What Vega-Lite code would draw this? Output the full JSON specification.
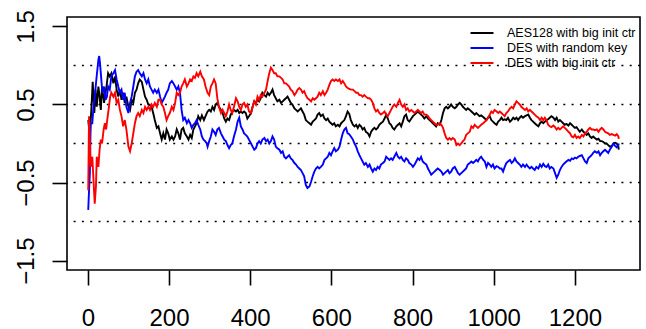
{
"$schema": "https://vega.github.io/schema/vega-lite/v6.json",
"width": 573, "height": 253,
"autosize": {"type": "none"},
"padding": {"left": 67, "top": 17, "right": 6, "bottom": 59},
"config": {
  "view": {"stroke": "black", "strokeWidth": 1.6},
  "font": "Liberation Sans",
  "axis": {"labelFont": "Liberation Sans", "labelFontSize": 24, "labelColor": "black", "ticks": true, "tickColor": "black", "tickWidth": 1.6, "tickSize": 15, "domain": false, "grid": false, "title": null}
},
"datasets": {
  "names": [{"k": 0, "name": "AES128 with big init ctr"}, {"k": 1, "name": "DES with random key"}, {"k": 2, "name": "DES with big init ctr"}],
  "grid": [{"h": -1}, {"h": -0.5}, {"h": 0}, {"h": 0.5}, {"h": 1}]
},
"layer": [
  {"data": {"name": "grid"}, "mark": {"type": "rule", "strokeDash": [2, 6.3], "color": "black", "strokeWidth": 1.5},
   "encoding": {"y": {"field": "h", "type": "quantitative", "scale": {"domain": [-1.62, 1.62], "nice": false, "zero": false},
     "axis": {"values": [-1.5, -0.5, 0.5, 1.5], "format": ".1f", "ticks": true, "tickSize": 15, "labelAngle": -90, "labelAlign": "center", "labelBaseline": "alphabetic", "labelPadding": 19, "labelOverlap": false}}}},
  {"data": {"values": [
{"k":0,"x":1,"y":0.3},{"k":0,"x":5,"y":0.1},{"k":0,"x":9,"y":0.47},{"k":0,"x":12,"y":0.79},{"k":0,"x":16,"y":0.39},{"k":0,"x":19,"y":0.69},{"k":0,"x":22,"y":0.47},{"k":0,"x":26,"y":0.73},{"k":0,"x":29,"y":0.6},{"k":0,"x":32,"y":0.43},{"k":0,"x":35,"y":0.73},{"k":0,"x":40,"y":0.52},{"k":0,"x":46,"y":0.73},{"k":0,"x":50,"y":0.9},{"k":0,"x":54,"y":0.86},{"k":0,"x":58,"y":0.9},{"k":0,"x":63,"y":0.77},{"k":0,"x":67,"y":0.86},{"k":0,"x":71,"y":0.69},{"k":0,"x":75,"y":0.6},{"k":0,"x":79,"y":0.69},{"k":0,"x":83,"y":0.56},{"k":0,"x":87,"y":0.65},{"k":0,"x":91,"y":0.52},{"k":0,"x":95,"y":0.6},{"k":0,"x":100,"y":0.47},{"k":0,"x":104,"y":0.43},{"k":0,"x":108,"y":0.56},{"k":0,"x":112,"y":0.52},{"k":0,"x":116,"y":0.65},{"k":0,"x":120,"y":0.69},{"k":0,"x":124,"y":0.77},{"k":0,"x":128,"y":0.82},{"k":0,"x":133,"y":0.79},{"k":0,"x":137,"y":0.69},{"k":0,"x":141,"y":0.6},{"k":0,"x":145,"y":0.56},{"k":0,"x":149,"y":0.5},{"k":0,"x":153,"y":0.49},{"k":0,"x":157,"y":0.47},{"k":0,"x":161,"y":0.39},{"k":0,"x":165,"y":0.3},{"k":0,"x":170,"y":0.2},{"k":0,"x":174,"y":0.22},{"k":0,"x":178,"y":0.13},{"k":0,"x":182,"y":0.05},{"k":0,"x":186,"y":0.13},{"k":0,"x":190,"y":0.05},{"k":0,"x":194,"y":0.18},{"k":0,"x":198,"y":0.13},{"k":0,"x":202,"y":0.05},{"k":0,"x":207,"y":0.09},{"k":0,"x":211,"y":0.05},{"k":0,"x":215,"y":0.09},{"k":0,"x":219,"y":0.18},{"k":0,"x":223,"y":0.13},{"k":0,"x":227,"y":0.05},{"k":0,"x":231,"y":0.18},{"k":0,"x":235,"y":0.2},{"k":0,"x":239,"y":0.13},{"k":0,"x":244,"y":0.09},{"k":0,"x":248,"y":0.05},{"k":0,"x":252,"y":0.11},{"k":0,"x":256,"y":0.07},{"k":0,"x":260,"y":0.18},{"k":0,"x":264,"y":0.22},{"k":0,"x":268,"y":0.26},{"k":0,"x":272,"y":0.35},{"k":0,"x":277,"y":0.3},{"k":0,"x":281,"y":0.36},{"k":0,"x":286,"y":0.3},{"k":0,"x":290,"y":0.35},{"k":0,"x":295,"y":0.41},{"k":0,"x":299,"y":0.43},{"k":0,"x":303,"y":0.41},{"k":0,"x":307,"y":0.47},{"k":0,"x":311,"y":0.43},{"k":0,"x":315,"y":0.5},{"k":0,"x":319,"y":0.52},{"k":0,"x":323,"y":0.47},{"k":0,"x":328,"y":0.43},{"k":0,"x":332,"y":0.39},{"k":0,"x":336,"y":0.32},{"k":0,"x":340,"y":0.28},{"k":0,"x":344,"y":0.32},{"k":0,"x":348,"y":0.3},{"k":0,"x":352,"y":0.37},{"k":0,"x":356,"y":0.41},{"k":0,"x":360,"y":0.43},{"k":0,"x":365,"y":0.41},{"k":0,"x":369,"y":0.43},{"k":0,"x":373,"y":0.39},{"k":0,"x":377,"y":0.41},{"k":0,"x":381,"y":0.39},{"k":0,"x":385,"y":0.41},{"k":0,"x":389,"y":0.39},{"k":0,"x":393,"y":0.32},{"k":0,"x":397,"y":0.35},{"k":0,"x":402,"y":0.39},{"k":0,"x":406,"y":0.47},{"k":0,"x":410,"y":0.54},{"k":0,"x":414,"y":0.52},{"k":0,"x":418,"y":0.56},{"k":0,"x":422,"y":0.54},{"k":0,"x":426,"y":0.58},{"k":0,"x":430,"y":0.65},{"k":0,"x":435,"y":0.62},{"k":0,"x":439,"y":0.6},{"k":0,"x":443,"y":0.65},{"k":0,"x":447,"y":0.62},{"k":0,"x":451,"y":0.65},{"k":0,"x":455,"y":0.69},{"k":0,"x":459,"y":0.62},{"k":0,"x":463,"y":0.58},{"k":0,"x":467,"y":0.54},{"k":0,"x":472,"y":0.56},{"k":0,"x":476,"y":0.52},{"k":0,"x":480,"y":0.54},{"k":0,"x":484,"y":0.56},{"k":0,"x":488,"y":0.58},{"k":0,"x":492,"y":0.6},{"k":0,"x":496,"y":0.56},{"k":0,"x":500,"y":0.52},{"k":0,"x":504,"y":0.5},{"k":0,"x":509,"y":0.45},{"k":0,"x":513,"y":0.43},{"k":0,"x":517,"y":0.41},{"k":0,"x":521,"y":0.43},{"k":0,"x":525,"y":0.45},{"k":0,"x":529,"y":0.41},{"k":0,"x":533,"y":0.37},{"k":0,"x":537,"y":0.3},{"k":0,"x":541,"y":0.28},{"k":0,"x":546,"y":0.26},{"k":0,"x":550,"y":0.24},{"k":0,"x":554,"y":0.28},{"k":0,"x":558,"y":0.3},{"k":0,"x":562,"y":0.32},{"k":0,"x":566,"y":0.37},{"k":0,"x":570,"y":0.39},{"k":0,"x":574,"y":0.35},{"k":0,"x":579,"y":0.37},{"k":0,"x":583,"y":0.32},{"k":0,"x":587,"y":0.3},{"k":0,"x":591,"y":0.32},{"k":0,"x":595,"y":0.28},{"k":0,"x":599,"y":0.26},{"k":0,"x":603,"y":0.24},{"k":0,"x":607,"y":0.26},{"k":0,"x":611,"y":0.22},{"k":0,"x":616,"y":0.24},{"k":0,"x":620,"y":0.22},{"k":0,"x":624,"y":0.26},{"k":0,"x":628,"y":0.28},{"k":0,"x":632,"y":0.3},{"k":0,"x":636,"y":0.35},{"k":0,"x":640,"y":0.41},{"k":0,"x":644,"y":0.38},{"k":0,"x":648,"y":0.3},{"k":0,"x":653,"y":0.24},{"k":0,"x":657,"y":0.22},{"k":0,"x":661,"y":0.24},{"k":0,"x":665,"y":0.2},{"k":0,"x":669,"y":0.24},{"k":0,"x":673,"y":0.22},{"k":0,"x":677,"y":0.18},{"k":0,"x":681,"y":0.2},{"k":0,"x":685,"y":0.15},{"k":0,"x":690,"y":0.13},{"k":0,"x":694,"y":0.09},{"k":0,"x":698,"y":0.15},{"k":0,"x":702,"y":0.18},{"k":0,"x":706,"y":0.2},{"k":0,"x":710,"y":0.18},{"k":0,"x":714,"y":0.2},{"k":0,"x":718,"y":0.24},{"k":0,"x":722,"y":0.26},{"k":0,"x":727,"y":0.28},{"k":0,"x":731,"y":0.32},{"k":0,"x":735,"y":0.37},{"k":0,"x":739,"y":0.32},{"k":0,"x":743,"y":0.26},{"k":0,"x":747,"y":0.24},{"k":0,"x":751,"y":0.2},{"k":0,"x":755,"y":0.18},{"k":0,"x":760,"y":0.22},{"k":0,"x":764,"y":0.24},{"k":0,"x":768,"y":0.26},{"k":0,"x":772,"y":0.22},{"k":0,"x":776,"y":0.28},{"k":0,"x":780,"y":0.35},{"k":0,"x":784,"y":0.37},{"k":0,"x":788,"y":0.3},{"k":0,"x":792,"y":0.28},{"k":0,"x":797,"y":0.32},{"k":0,"x":801,"y":0.35},{"k":0,"x":805,"y":0.37},{"k":0,"x":809,"y":0.39},{"k":0,"x":813,"y":0.41},{"k":0,"x":817,"y":0.39},{"k":0,"x":821,"y":0.37},{"k":0,"x":825,"y":0.35},{"k":0,"x":829,"y":0.32},{"k":0,"x":834,"y":0.35},{"k":0,"x":838,"y":0.32},{"k":0,"x":842,"y":0.3},{"k":0,"x":846,"y":0.28},{"k":0,"x":850,"y":0.26},{"k":0,"x":854,"y":0.24},{"k":0,"x":858,"y":0.22},{"k":0,"x":862,"y":0.26},{"k":0,"x":867,"y":0.24},{"k":0,"x":871,"y":0.3},{"k":0,"x":875,"y":0.39},{"k":0,"x":879,"y":0.45},{"k":0,"x":883,"y":0.47},{"k":0,"x":887,"y":0.45},{"k":0,"x":891,"y":0.47},{"k":0,"x":895,"y":0.5},{"k":0,"x":899,"y":0.47},{"k":0,"x":904,"y":0.45},{"k":0,"x":908,"y":0.47},{"k":0,"x":912,"y":0.5},{"k":0,"x":916,"y":0.52},{"k":0,"x":920,"y":0.5},{"k":0,"x":924,"y":0.47},{"k":0,"x":928,"y":0.45},{"k":0,"x":932,"y":0.43},{"k":0,"x":936,"y":0.45},{"k":0,"x":941,"y":0.43},{"k":0,"x":945,"y":0.41},{"k":0,"x":949,"y":0.39},{"k":0,"x":953,"y":0.37},{"k":0,"x":957,"y":0.39},{"k":0,"x":961,"y":0.37},{"k":0,"x":965,"y":0.35},{"k":0,"x":969,"y":0.36},{"k":0,"x":974,"y":0.34},{"k":0,"x":978,"y":0.32},{"k":0,"x":982,"y":0.3},{"k":0,"x":986,"y":0.33},{"k":0,"x":990,"y":0.35},{"k":0,"x":994,"y":0.3},{"k":0,"x":998,"y":0.28},{"k":0,"x":1002,"y":0.26},{"k":0,"x":1007,"y":0.24},{"k":0,"x":1011,"y":0.28},{"k":0,"x":1015,"y":0.3},{"k":0,"x":1019,"y":0.33},{"k":0,"x":1023,"y":0.3},{"k":0,"x":1027,"y":0.31},{"k":0,"x":1031,"y":0.3},{"k":0,"x":1035,"y":0.33},{"k":0,"x":1040,"y":0.28},{"k":0,"x":1044,"y":0.3},{"k":0,"x":1048,"y":0.33},{"k":0,"x":1052,"y":0.31},{"k":0,"x":1056,"y":0.33},{"k":0,"x":1060,"y":0.3},{"k":0,"x":1064,"y":0.33},{"k":0,"x":1068,"y":0.35},{"k":0,"x":1072,"y":0.33},{"k":0,"x":1077,"y":0.35},{"k":0,"x":1081,"y":0.36},{"k":0,"x":1085,"y":0.37},{"k":0,"x":1089,"y":0.33},{"k":0,"x":1093,"y":0.3},{"k":0,"x":1097,"y":0.28},{"k":0,"x":1101,"y":0.26},{"k":0,"x":1105,"y":0.24},{"k":0,"x":1110,"y":0.22},{"k":0,"x":1114,"y":0.26},{"k":0,"x":1118,"y":0.28},{"k":0,"x":1122,"y":0.26},{"k":0,"x":1126,"y":0.28},{"k":0,"x":1130,"y":0.3},{"k":0,"x":1134,"y":0.31},{"k":0,"x":1138,"y":0.33},{"k":0,"x":1142,"y":0.35},{"k":0,"x":1147,"y":0.33},{"k":0,"x":1151,"y":0.3},{"k":0,"x":1155,"y":0.33},{"k":0,"x":1159,"y":0.28},{"k":0,"x":1163,"y":0.3},{"k":0,"x":1167,"y":0.28},{"k":0,"x":1171,"y":0.26},{"k":0,"x":1175,"y":0.24},{"k":0,"x":1179,"y":0.25},{"k":0,"x":1184,"y":0.23},{"k":0,"x":1188,"y":0.26},{"k":0,"x":1192,"y":0.24},{"k":0,"x":1196,"y":0.22},{"k":0,"x":1200,"y":0.2},{"k":0,"x":1204,"y":0.21},{"k":0,"x":1208,"y":0.18},{"k":0,"x":1212,"y":0.15},{"k":0,"x":1217,"y":0.18},{"k":0,"x":1221,"y":0.15},{"k":0,"x":1225,"y":0.13},{"k":0,"x":1229,"y":0.11},{"k":0,"x":1233,"y":0.13},{"k":0,"x":1237,"y":0.09},{"k":0,"x":1241,"y":0.07},{"k":0,"x":1245,"y":0.09},{"k":0,"x":1249,"y":0.07},{"k":0,"x":1254,"y":0.05},{"k":0,"x":1258,"y":0.06},{"k":0,"x":1262,"y":0.03},{"k":0,"x":1266,"y":0.03},{"k":0,"x":1270,"y":0.02},{"k":0,"x":1274,"y":0},{"k":0,"x":1278,"y":0},{"k":0,"x":1282,"y":-0.02},{"k":0,"x":1286,"y":-0.04},{"k":0,"x":1291,"y":-0.03},{"k":0,"x":1295,"y":0},{"k":0,"x":1299,"y":0.01},{"k":0,"x":1303,"y":0},{"k":0,"x":1307,"y":-0.04},{"k":0,"x":1308,"y":-0.08},
{"k":1,"x":1,"y":-0.85},{"k":1,"x":3,"y":-0.6},{"k":1,"x":5,"y":-0.38},{"k":1,"x":7,"y":0.26},{"k":1,"x":11,"y":0.26},{"k":1,"x":14,"y":0.47},{"k":1,"x":17,"y":0.6},{"k":1,"x":21,"y":0.82},{"k":1,"x":26,"y":1.07},{"k":1,"x":28,"y":1.12},{"k":1,"x":30,"y":1.03},{"k":1,"x":34,"y":0.77},{"k":1,"x":36,"y":0.65},{"k":1,"x":40,"y":0.73},{"k":1,"x":44,"y":0.56},{"k":1,"x":47,"y":0.6},{"k":1,"x":50,"y":0.73},{"k":1,"x":54,"y":0.69},{"k":1,"x":58,"y":0.86},{"k":1,"x":63,"y":0.9},{"k":1,"x":67,"y":0.94},{"k":1,"x":71,"y":0.82},{"k":1,"x":75,"y":0.73},{"k":1,"x":79,"y":0.65},{"k":1,"x":83,"y":0.69},{"k":1,"x":87,"y":0.56},{"k":1,"x":91,"y":0.65},{"k":1,"x":95,"y":0.47},{"k":1,"x":100,"y":0.39},{"k":1,"x":104,"y":0.52},{"k":1,"x":108,"y":0.6},{"k":1,"x":112,"y":0.73},{"k":1,"x":116,"y":0.86},{"k":1,"x":120,"y":0.92},{"k":1,"x":124,"y":0.94},{"k":1,"x":128,"y":0.9},{"k":1,"x":133,"y":0.86},{"k":1,"x":137,"y":0.9},{"k":1,"x":141,"y":0.82},{"k":1,"x":145,"y":0.77},{"k":1,"x":149,"y":0.82},{"k":1,"x":153,"y":0.73},{"k":1,"x":157,"y":0.69},{"k":1,"x":161,"y":0.65},{"k":1,"x":165,"y":0.69},{"k":1,"x":170,"y":0.65},{"k":1,"x":174,"y":0.69},{"k":1,"x":178,"y":0.6},{"k":1,"x":182,"y":0.52},{"k":1,"x":186,"y":0.56},{"k":1,"x":190,"y":0.6},{"k":1,"x":194,"y":0.65},{"k":1,"x":198,"y":0.69},{"k":1,"x":202,"y":0.77},{"k":1,"x":207,"y":0.8},{"k":1,"x":211,"y":0.77},{"k":1,"x":215,"y":0.73},{"k":1,"x":219,"y":0.69},{"k":1,"x":223,"y":0.73},{"k":1,"x":227,"y":0.65},{"k":1,"x":231,"y":0.43},{"k":1,"x":235,"y":0.3},{"k":1,"x":239,"y":0.33},{"k":1,"x":244,"y":0.26},{"k":1,"x":248,"y":0.3},{"k":1,"x":252,"y":0.26},{"k":1,"x":256,"y":0.2},{"k":1,"x":260,"y":0.24},{"k":1,"x":264,"y":0.26},{"k":1,"x":268,"y":0.3},{"k":1,"x":272,"y":0.24},{"k":1,"x":277,"y":0.18},{"k":1,"x":281,"y":0.09},{"k":1,"x":285,"y":0.05},{"k":1,"x":289,"y":0.03},{"k":1,"x":293,"y":0},{"k":1,"x":295,"y":-0.04},{"k":1,"x":299,"y":0.03},{"k":1,"x":303,"y":0.09},{"k":1,"x":307,"y":0.18},{"k":1,"x":311,"y":0.15},{"k":1,"x":315,"y":0.11},{"k":1,"x":319,"y":0.18},{"k":1,"x":323,"y":0.2},{"k":1,"x":328,"y":0.13},{"k":1,"x":332,"y":0.09},{"k":1,"x":336,"y":0.05},{"k":1,"x":340,"y":0.03},{"k":1,"x":344,"y":-0.02},{"k":1,"x":348,"y":-0.06},{"k":1,"x":352,"y":-0.02},{"k":1,"x":356,"y":0},{"k":1,"x":360,"y":0.09},{"k":1,"x":365,"y":0.18},{"k":1,"x":369,"y":0.28},{"k":1,"x":373,"y":0.33},{"k":1,"x":377,"y":0.22},{"k":1,"x":381,"y":0.18},{"k":1,"x":385,"y":0.13},{"k":1,"x":389,"y":0.11},{"k":1,"x":393,"y":0.09},{"k":1,"x":397,"y":0.05},{"k":1,"x":402,"y":0},{"k":1,"x":406,"y":-0.04},{"k":1,"x":410,"y":-0.08},{"k":1,"x":414,"y":-0.06},{"k":1,"x":418,"y":0},{"k":1,"x":422,"y":0.03},{"k":1,"x":426,"y":0},{"k":1,"x":430,"y":0.05},{"k":1,"x":435,"y":0.07},{"k":1,"x":439,"y":0.03},{"k":1,"x":443,"y":0.05},{"k":1,"x":447,"y":0},{"k":1,"x":451,"y":0.03},{"k":1,"x":455,"y":0.09},{"k":1,"x":459,"y":0.05},{"k":1,"x":463,"y":-0.04},{"k":1,"x":467,"y":-0.06},{"k":1,"x":472,"y":-0.08},{"k":1,"x":476,"y":-0.12},{"k":1,"x":480,"y":-0.1},{"k":1,"x":484,"y":-0.17},{"k":1,"x":488,"y":-0.19},{"k":1,"x":492,"y":-0.17},{"k":1,"x":496,"y":-0.15},{"k":1,"x":500,"y":-0.19},{"k":1,"x":504,"y":-0.21},{"k":1,"x":509,"y":-0.25},{"k":1,"x":513,"y":-0.27},{"k":1,"x":517,"y":-0.3},{"k":1,"x":521,"y":-0.32},{"k":1,"x":525,"y":-0.34},{"k":1,"x":529,"y":-0.38},{"k":1,"x":533,"y":-0.42},{"k":1,"x":537,"y":-0.53},{"k":1,"x":541,"y":-0.57},{"k":1,"x":546,"y":-0.55},{"k":1,"x":550,"y":-0.49},{"k":1,"x":554,"y":-0.42},{"k":1,"x":558,"y":-0.36},{"k":1,"x":562,"y":-0.32},{"k":1,"x":566,"y":-0.3},{"k":1,"x":570,"y":-0.32},{"k":1,"x":574,"y":-0.3},{"k":1,"x":579,"y":-0.27},{"k":1,"x":583,"y":-0.21},{"k":1,"x":587,"y":-0.19},{"k":1,"x":591,"y":-0.17},{"k":1,"x":595,"y":-0.12},{"k":1,"x":599,"y":-0.15},{"k":1,"x":603,"y":-0.1},{"k":1,"x":607,"y":-0.06},{"k":1,"x":611,"y":-0.1},{"k":1,"x":616,"y":-0.08},{"k":1,"x":620,"y":-0.04},{"k":1,"x":624,"y":0.05},{"k":1,"x":628,"y":0.13},{"k":1,"x":632,"y":0.18},{"k":1,"x":636,"y":0.2},{"k":1,"x":640,"y":0.13},{"k":1,"x":644,"y":0.12},{"k":1,"x":648,"y":0.09},{"k":1,"x":653,"y":0.05},{"k":1,"x":657,"y":0},{"k":1,"x":661,"y":-0.04},{"k":1,"x":665,"y":-0.1},{"k":1,"x":669,"y":-0.15},{"k":1,"x":673,"y":-0.19},{"k":1,"x":677,"y":-0.23},{"k":1,"x":681,"y":-0.27},{"k":1,"x":685,"y":-0.25},{"k":1,"x":690,"y":-0.3},{"k":1,"x":694,"y":-0.27},{"k":1,"x":698,"y":-0.32},{"k":1,"x":702,"y":-0.36},{"k":1,"x":706,"y":-0.32},{"k":1,"x":710,"y":-0.34},{"k":1,"x":714,"y":-0.3},{"k":1,"x":718,"y":-0.32},{"k":1,"x":722,"y":-0.27},{"k":1,"x":727,"y":-0.25},{"k":1,"x":731,"y":-0.23},{"k":1,"x":735,"y":-0.17},{"k":1,"x":739,"y":-0.19},{"k":1,"x":743,"y":-0.21},{"k":1,"x":747,"y":-0.19},{"k":1,"x":751,"y":-0.21},{"k":1,"x":755,"y":-0.17},{"k":1,"x":760,"y":-0.12},{"k":1,"x":764,"y":-0.17},{"k":1,"x":768,"y":-0.19},{"k":1,"x":772,"y":-0.17},{"k":1,"x":776,"y":-0.21},{"k":1,"x":780,"y":-0.23},{"k":1,"x":784,"y":-0.19},{"k":1,"x":788,"y":-0.21},{"k":1,"x":792,"y":-0.25},{"k":1,"x":797,"y":-0.27},{"k":1,"x":801,"y":-0.3},{"k":1,"x":805,"y":-0.27},{"k":1,"x":809,"y":-0.23},{"k":1,"x":813,"y":-0.19},{"k":1,"x":817,"y":-0.21},{"k":1,"x":821,"y":-0.17},{"k":1,"x":825,"y":-0.23},{"k":1,"x":829,"y":-0.25},{"k":1,"x":834,"y":-0.27},{"k":1,"x":838,"y":-0.32},{"k":1,"x":842,"y":-0.36},{"k":1,"x":846,"y":-0.4},{"k":1,"x":850,"y":-0.38},{"k":1,"x":854,"y":-0.36},{"k":1,"x":858,"y":-0.34},{"k":1,"x":862,"y":-0.32},{"k":1,"x":867,"y":-0.34},{"k":1,"x":871,"y":-0.36},{"k":1,"x":875,"y":-0.4},{"k":1,"x":879,"y":-0.38},{"k":1,"x":883,"y":-0.36},{"k":1,"x":887,"y":-0.34},{"k":1,"x":891,"y":-0.38},{"k":1,"x":895,"y":-0.36},{"k":1,"x":899,"y":-0.32},{"k":1,"x":904,"y":-0.3},{"k":1,"x":908,"y":-0.34},{"k":1,"x":912,"y":-0.38},{"k":1,"x":916,"y":-0.4},{"k":1,"x":920,"y":-0.38},{"k":1,"x":924,"y":-0.36},{"k":1,"x":928,"y":-0.34},{"k":1,"x":932,"y":-0.32},{"k":1,"x":936,"y":-0.27},{"k":1,"x":941,"y":-0.25},{"k":1,"x":945,"y":-0.23},{"k":1,"x":949,"y":-0.25},{"k":1,"x":953,"y":-0.23},{"k":1,"x":957,"y":-0.21},{"k":1,"x":961,"y":-0.23},{"k":1,"x":965,"y":-0.19},{"k":1,"x":969,"y":-0.17},{"k":1,"x":974,"y":-0.21},{"k":1,"x":978,"y":-0.23},{"k":1,"x":982,"y":-0.3},{"k":1,"x":986,"y":-0.25},{"k":1,"x":990,"y":-0.27},{"k":1,"x":994,"y":-0.3},{"k":1,"x":998,"y":-0.27},{"k":1,"x":1002,"y":-0.32},{"k":1,"x":1007,"y":-0.29},{"k":1,"x":1011,"y":-0.3},{"k":1,"x":1015,"y":-0.32},{"k":1,"x":1019,"y":-0.32},{"k":1,"x":1023,"y":-0.36},{"k":1,"x":1027,"y":-0.3},{"k":1,"x":1031,"y":-0.25},{"k":1,"x":1035,"y":-0.23},{"k":1,"x":1040,"y":-0.21},{"k":1,"x":1044,"y":-0.25},{"k":1,"x":1048,"y":-0.23},{"k":1,"x":1052,"y":-0.19},{"k":1,"x":1056,"y":-0.23},{"k":1,"x":1060,"y":-0.25},{"k":1,"x":1064,"y":-0.27},{"k":1,"x":1068,"y":-0.3},{"k":1,"x":1072,"y":-0.27},{"k":1,"x":1077,"y":-0.3},{"k":1,"x":1081,"y":-0.27},{"k":1,"x":1085,"y":-0.3},{"k":1,"x":1089,"y":-0.32},{"k":1,"x":1093,"y":-0.3},{"k":1,"x":1097,"y":-0.32},{"k":1,"x":1101,"y":-0.34},{"k":1,"x":1105,"y":-0.3},{"k":1,"x":1110,"y":-0.32},{"k":1,"x":1114,"y":-0.27},{"k":1,"x":1118,"y":-0.3},{"k":1,"x":1122,"y":-0.26},{"k":1,"x":1126,"y":-0.29},{"k":1,"x":1130,"y":-0.3},{"k":1,"x":1134,"y":-0.27},{"k":1,"x":1138,"y":-0.32},{"k":1,"x":1142,"y":-0.3},{"k":1,"x":1147,"y":-0.32},{"k":1,"x":1151,"y":-0.38},{"k":1,"x":1155,"y":-0.44},{"k":1,"x":1159,"y":-0.4},{"k":1,"x":1163,"y":-0.34},{"k":1,"x":1167,"y":-0.3},{"k":1,"x":1171,"y":-0.27},{"k":1,"x":1175,"y":-0.25},{"k":1,"x":1179,"y":-0.23},{"k":1,"x":1184,"y":-0.21},{"k":1,"x":1188,"y":-0.22},{"k":1,"x":1192,"y":-0.19},{"k":1,"x":1196,"y":-0.2},{"k":1,"x":1200,"y":-0.18},{"k":1,"x":1204,"y":-0.19},{"k":1,"x":1208,"y":-0.17},{"k":1,"x":1212,"y":-0.16},{"k":1,"x":1217,"y":-0.15},{"k":1,"x":1221,"y":-0.19},{"k":1,"x":1225,"y":-0.23},{"k":1,"x":1229,"y":-0.25},{"k":1,"x":1233,"y":-0.19},{"k":1,"x":1237,"y":-0.17},{"k":1,"x":1241,"y":-0.15},{"k":1,"x":1245,"y":-0.12},{"k":1,"x":1249,"y":-0.1},{"k":1,"x":1254,"y":-0.12},{"k":1,"x":1258,"y":-0.1},{"k":1,"x":1262,"y":-0.15},{"k":1,"x":1266,"y":-0.12},{"k":1,"x":1270,"y":-0.1},{"k":1,"x":1274,"y":-0.08},{"k":1,"x":1278,"y":-0.1},{"k":1,"x":1282,"y":-0.12},{"k":1,"x":1286,"y":-0.08},{"k":1,"x":1291,"y":-0.04},{"k":1,"x":1295,"y":0},{"k":1,"x":1299,"y":-0.03},{"k":1,"x":1303,"y":-0.05},{"k":1,"x":1307,"y":-0.02},{"k":1,"x":1308,"y":0},
{"k":2,"x":1,"y":-0.6},{"k":2,"x":3,"y":0.35},{"k":2,"x":5,"y":0.05},{"k":2,"x":7,"y":-0.3},{"k":2,"x":11,"y":-0.17},{"k":2,"x":14,"y":-0.47},{"k":2,"x":17,"y":-0.77},{"k":2,"x":20,"y":-0.55},{"k":2,"x":22,"y":-0.17},{"k":2,"x":26,"y":-0.3},{"k":2,"x":29,"y":-0.08},{"k":2,"x":32,"y":0.05},{"k":2,"x":35,"y":0},{"k":2,"x":39,"y":0.18},{"k":2,"x":42,"y":0.26},{"k":2,"x":45,"y":0.18},{"k":2,"x":49,"y":0.35},{"k":2,"x":52,"y":0.47},{"k":2,"x":55,"y":0.6},{"k":2,"x":58,"y":0.65},{"k":2,"x":63,"y":0.6},{"k":2,"x":67,"y":0.65},{"k":2,"x":71,"y":0.52},{"k":2,"x":75,"y":0.56},{"k":2,"x":79,"y":0.43},{"k":2,"x":83,"y":0.35},{"k":2,"x":87,"y":0.22},{"k":2,"x":91,"y":0.3},{"k":2,"x":95,"y":0.18},{"k":2,"x":100,"y":-0.04},{"k":2,"x":104,"y":-0.1},{"k":2,"x":108,"y":0},{"k":2,"x":112,"y":0.13},{"k":2,"x":116,"y":0.26},{"k":2,"x":120,"y":0.35},{"k":2,"x":124,"y":0.39},{"k":2,"x":128,"y":0.35},{"k":2,"x":133,"y":0.43},{"k":2,"x":137,"y":0.39},{"k":2,"x":141,"y":0.47},{"k":2,"x":145,"y":0.43},{"k":2,"x":149,"y":0.47},{"k":2,"x":153,"y":0.43},{"k":2,"x":157,"y":0.5},{"k":2,"x":161,"y":0.47},{"k":2,"x":165,"y":0.52},{"k":2,"x":170,"y":0.47},{"k":2,"x":174,"y":0.56},{"k":2,"x":178,"y":0.56},{"k":2,"x":182,"y":0.5},{"k":2,"x":186,"y":0.47},{"k":2,"x":190,"y":0.39},{"k":2,"x":194,"y":0.3},{"k":2,"x":198,"y":0.35},{"k":2,"x":202,"y":0.39},{"k":2,"x":207,"y":0.47},{"k":2,"x":211,"y":0.43},{"k":2,"x":215,"y":0.52},{"k":2,"x":219,"y":0.65},{"k":2,"x":223,"y":0.62},{"k":2,"x":227,"y":0.65},{"k":2,"x":231,"y":0.73},{"k":2,"x":235,"y":0.77},{"k":2,"x":239,"y":0.82},{"k":2,"x":244,"y":0.73},{"k":2,"x":248,"y":0.77},{"k":2,"x":252,"y":0.82},{"k":2,"x":256,"y":0.8},{"k":2,"x":260,"y":0.86},{"k":2,"x":264,"y":0.84},{"k":2,"x":268,"y":0.9},{"k":2,"x":272,"y":0.86},{"k":2,"x":277,"y":0.92},{"k":2,"x":281,"y":0.86},{"k":2,"x":286,"y":0.82},{"k":2,"x":290,"y":0.73},{"k":2,"x":295,"y":0.65},{"k":2,"x":299,"y":0.62},{"k":2,"x":303,"y":0.73},{"k":2,"x":307,"y":0.77},{"k":2,"x":311,"y":0.82},{"k":2,"x":315,"y":0.77},{"k":2,"x":319,"y":0.58},{"k":2,"x":323,"y":0.47},{"k":2,"x":328,"y":0.39},{"k":2,"x":332,"y":0.43},{"k":2,"x":336,"y":0.39},{"k":2,"x":340,"y":0.35},{"k":2,"x":344,"y":0.41},{"k":2,"x":348,"y":0.5},{"k":2,"x":352,"y":0.43},{"k":2,"x":356,"y":0.39},{"k":2,"x":360,"y":0.47},{"k":2,"x":365,"y":0.58},{"k":2,"x":369,"y":0.54},{"k":2,"x":373,"y":0.47},{"k":2,"x":377,"y":0.43},{"k":2,"x":381,"y":0.5},{"k":2,"x":385,"y":0.52},{"k":2,"x":389,"y":0.47},{"k":2,"x":393,"y":0.5},{"k":2,"x":397,"y":0.41},{"k":2,"x":402,"y":0.39},{"k":2,"x":406,"y":0.47},{"k":2,"x":410,"y":0.54},{"k":2,"x":414,"y":0.5},{"k":2,"x":418,"y":0.6},{"k":2,"x":422,"y":0.56},{"k":2,"x":426,"y":0.62},{"k":2,"x":430,"y":0.6},{"k":2,"x":435,"y":0.65},{"k":2,"x":439,"y":0.69},{"k":2,"x":443,"y":0.8},{"k":2,"x":447,"y":0.9},{"k":2,"x":451,"y":0.97},{"k":2,"x":455,"y":0.94},{"k":2,"x":459,"y":0.9},{"k":2,"x":463,"y":0.9},{"k":2,"x":467,"y":0.86},{"k":2,"x":472,"y":0.86},{"k":2,"x":476,"y":0.84},{"k":2,"x":480,"y":0.82},{"k":2,"x":484,"y":0.77},{"k":2,"x":488,"y":0.77},{"k":2,"x":492,"y":0.75},{"k":2,"x":496,"y":0.73},{"k":2,"x":500,"y":0.69},{"k":2,"x":504,"y":0.67},{"k":2,"x":509,"y":0.62},{"k":2,"x":513,"y":0.65},{"k":2,"x":517,"y":0.69},{"k":2,"x":521,"y":0.71},{"k":2,"x":525,"y":0.69},{"k":2,"x":529,"y":0.65},{"k":2,"x":533,"y":0.67},{"k":2,"x":537,"y":0.62},{"k":2,"x":541,"y":0.58},{"k":2,"x":546,"y":0.56},{"k":2,"x":550,"y":0.54},{"k":2,"x":554,"y":0.58},{"k":2,"x":558,"y":0.56},{"k":2,"x":562,"y":0.58},{"k":2,"x":566,"y":0.6},{"k":2,"x":570,"y":0.65},{"k":2,"x":574,"y":0.62},{"k":2,"x":579,"y":0.67},{"k":2,"x":583,"y":0.62},{"k":2,"x":587,"y":0.65},{"k":2,"x":591,"y":0.69},{"k":2,"x":595,"y":0.75},{"k":2,"x":599,"y":0.8},{"k":2,"x":603,"y":0.82},{"k":2,"x":607,"y":0.8},{"k":2,"x":611,"y":0.82},{"k":2,"x":616,"y":0.8},{"k":2,"x":620,"y":0.82},{"k":2,"x":624,"y":0.77},{"k":2,"x":628,"y":0.8},{"k":2,"x":632,"y":0.77},{"k":2,"x":636,"y":0.73},{"k":2,"x":640,"y":0.71},{"k":2,"x":644,"y":0.7},{"k":2,"x":648,"y":0.69},{"k":2,"x":653,"y":0.69},{"k":2,"x":657,"y":0.67},{"k":2,"x":661,"y":0.65},{"k":2,"x":665,"y":0.65},{"k":2,"x":669,"y":0.62},{"k":2,"x":673,"y":0.62},{"k":2,"x":677,"y":0.6},{"k":2,"x":681,"y":0.62},{"k":2,"x":685,"y":0.6},{"k":2,"x":690,"y":0.58},{"k":2,"x":694,"y":0.58},{"k":2,"x":698,"y":0.56},{"k":2,"x":702,"y":0.52},{"k":2,"x":706,"y":0.45},{"k":2,"x":710,"y":0.41},{"k":2,"x":714,"y":0.43},{"k":2,"x":718,"y":0.39},{"k":2,"x":722,"y":0.37},{"k":2,"x":727,"y":0.39},{"k":2,"x":731,"y":0.41},{"k":2,"x":735,"y":0.37},{"k":2,"x":739,"y":0.35},{"k":2,"x":743,"y":0.39},{"k":2,"x":747,"y":0.43},{"k":2,"x":751,"y":0.47},{"k":2,"x":755,"y":0.5},{"k":2,"x":760,"y":0.47},{"k":2,"x":764,"y":0.52},{"k":2,"x":768,"y":0.56},{"k":2,"x":772,"y":0.5},{"k":2,"x":776,"y":0.47},{"k":2,"x":780,"y":0.5},{"k":2,"x":784,"y":0.43},{"k":2,"x":788,"y":0.45},{"k":2,"x":792,"y":0.41},{"k":2,"x":797,"y":0.43},{"k":2,"x":801,"y":0.41},{"k":2,"x":805,"y":0.39},{"k":2,"x":809,"y":0.41},{"k":2,"x":813,"y":0.43},{"k":2,"x":817,"y":0.41},{"k":2,"x":821,"y":0.39},{"k":2,"x":825,"y":0.41},{"k":2,"x":829,"y":0.37},{"k":2,"x":834,"y":0.37},{"k":2,"x":838,"y":0.35},{"k":2,"x":842,"y":0.32},{"k":2,"x":846,"y":0.3},{"k":2,"x":850,"y":0.28},{"k":2,"x":854,"y":0.26},{"k":2,"x":858,"y":0.24},{"k":2,"x":862,"y":0.24},{"k":2,"x":867,"y":0.26},{"k":2,"x":871,"y":0.24},{"k":2,"x":875,"y":0.2},{"k":2,"x":879,"y":0.13},{"k":2,"x":883,"y":0.07},{"k":2,"x":887,"y":0.05},{"k":2,"x":891,"y":0.07},{"k":2,"x":895,"y":0.05},{"k":2,"x":899,"y":0.07},{"k":2,"x":904,"y":0.05},{"k":2,"x":908,"y":-0.02},{"k":2,"x":912,"y":0},{"k":2,"x":916,"y":-0.02},{"k":2,"x":920,"y":0},{"k":2,"x":924,"y":0.03},{"k":2,"x":928,"y":0.05},{"k":2,"x":932,"y":0.11},{"k":2,"x":936,"y":0.13},{"k":2,"x":941,"y":0.15},{"k":2,"x":945,"y":0.22},{"k":2,"x":949,"y":0.2},{"k":2,"x":953,"y":0.24},{"k":2,"x":957,"y":0.22},{"k":2,"x":961,"y":0.2},{"k":2,"x":965,"y":0.22},{"k":2,"x":969,"y":0.24},{"k":2,"x":974,"y":0.26},{"k":2,"x":978,"y":0.28},{"k":2,"x":982,"y":0.3},{"k":2,"x":986,"y":0.33},{"k":2,"x":990,"y":0.37},{"k":2,"x":994,"y":0.41},{"k":2,"x":998,"y":0.39},{"k":2,"x":1002,"y":0.43},{"k":2,"x":1007,"y":0.41},{"k":2,"x":1011,"y":0.39},{"k":2,"x":1015,"y":0.41},{"k":2,"x":1019,"y":0.39},{"k":2,"x":1023,"y":0.37},{"k":2,"x":1027,"y":0.35},{"k":2,"x":1031,"y":0.39},{"k":2,"x":1035,"y":0.41},{"k":2,"x":1040,"y":0.45},{"k":2,"x":1044,"y":0.47},{"k":2,"x":1048,"y":0.45},{"k":2,"x":1052,"y":0.5},{"k":2,"x":1056,"y":0.54},{"k":2,"x":1060,"y":0.52},{"k":2,"x":1064,"y":0.5},{"k":2,"x":1068,"y":0.47},{"k":2,"x":1072,"y":0.45},{"k":2,"x":1077,"y":0.43},{"k":2,"x":1081,"y":0.45},{"k":2,"x":1085,"y":0.41},{"k":2,"x":1089,"y":0.43},{"k":2,"x":1093,"y":0.41},{"k":2,"x":1097,"y":0.39},{"k":2,"x":1101,"y":0.37},{"k":2,"x":1105,"y":0.35},{"k":2,"x":1110,"y":0.33},{"k":2,"x":1114,"y":0.3},{"k":2,"x":1118,"y":0.33},{"k":2,"x":1122,"y":0.3},{"k":2,"x":1126,"y":0.33},{"k":2,"x":1130,"y":0.3},{"k":2,"x":1134,"y":0.24},{"k":2,"x":1138,"y":0.22},{"k":2,"x":1142,"y":0.21},{"k":2,"x":1147,"y":0.23},{"k":2,"x":1151,"y":0.21},{"k":2,"x":1155,"y":0.18},{"k":2,"x":1159,"y":0.2},{"k":2,"x":1163,"y":0.18},{"k":2,"x":1167,"y":0.2},{"k":2,"x":1171,"y":0.22},{"k":2,"x":1175,"y":0.2},{"k":2,"x":1179,"y":0.18},{"k":2,"x":1184,"y":0.15},{"k":2,"x":1188,"y":0.13},{"k":2,"x":1192,"y":0.09},{"k":2,"x":1196,"y":0.08},{"k":2,"x":1200,"y":0.11},{"k":2,"x":1204,"y":0.07},{"k":2,"x":1208,"y":0.09},{"k":2,"x":1212,"y":0.07},{"k":2,"x":1217,"y":0.11},{"k":2,"x":1221,"y":0.09},{"k":2,"x":1225,"y":0.13},{"k":2,"x":1229,"y":0.15},{"k":2,"x":1233,"y":0.18},{"k":2,"x":1237,"y":0.2},{"k":2,"x":1241,"y":0.18},{"k":2,"x":1245,"y":0.18},{"k":2,"x":1249,"y":0.17},{"k":2,"x":1254,"y":0.18},{"k":2,"x":1258,"y":0.15},{"k":2,"x":1262,"y":0.18},{"k":2,"x":1266,"y":0.2},{"k":2,"x":1270,"y":0.18},{"k":2,"x":1274,"y":0.15},{"k":2,"x":1278,"y":0.14},{"k":2,"x":1282,"y":0.13},{"k":2,"x":1286,"y":0.11},{"k":2,"x":1291,"y":0.12},{"k":2,"x":1295,"y":0.11},{"k":2,"x":1299,"y":0.1},{"k":2,"x":1303,"y":0.12},{"k":2,"x":1307,"y":0.09},{"k":2,"x":1308,"y":0.06}
  ]},
   "transform": [{"lookup": "k", "from": {"data": {"name": "names"}, "key": "k", "fields": ["name"]}}],
   "mark": {"type": "line", "strokeWidth": 1.9},
   "encoding": {
     "x": {"field": "x", "type": "quantitative", "scale": {"domain": [-51.3, 1360.3], "nice": false, "zero": false},
           "axis": {"values": [0, 200, 400, 600, 800, 1000, 1200], "format": "d", "ticks": true, "tickSize": 15, "labelBaseline": "alphabetic", "labelPadding": 40, "labelFlush": false, "labelOverlap": false}},
     "y": {"field": "y", "type": "quantitative", "scale": {"domain": [-1.62, 1.62], "nice": false, "zero": false},
           "axis": {"values": [-1.5, -0.5, 0.5, 1.5], "format": ".1f", "ticks": true, "tickSize": 15, "labelAngle": -90, "labelAlign": "center", "labelBaseline": "alphabetic", "labelPadding": 19, "labelOverlap": false}},
     "color": {"field": "name", "type": "nominal",
               "scale": {"domain": ["AES128 with big init ctr", "DES with random key", "DES with big init ctr"], "range": ["#000000", "#0000FF", "#FF0000"]},
               "legend": {"title": null, "orient": "none", "legendX": 408, "legendY": 9, "symbolType": "M-2,0H2", "symbolSize": 132, "symbolStrokeWidth": 2, "labelFontSize": 12.5, "labelFont": "Liberation Sans", "labelColor": "black", "labelOffset": 18, "rowPadding": 1, "padding": 0}}
   }}
]
}
